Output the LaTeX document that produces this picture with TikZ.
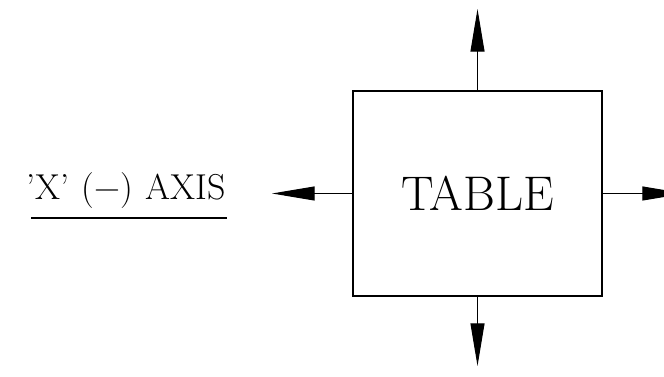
\documentclass[tikz,border=0pt]{standalone}
\usepackage{fontspec}
\usepackage{tikz}
\usetikzlibrary{arrows.meta}

\begin{document}
\begin{tikzpicture}[x=0.75pt, y=-0.75pt, line width=0.8pt]
  \useasboundingbox (0,0) rectangle (664,377);
  \node (table) [draw, minimum width=186.75pt, minimum height=153.75pt, inner sep=0pt,
    font=\fontsize{36.5}{42}\selectfont] at (477.5,193.5) {TABLE};
  \node (axis) [anchor=base, inner sep=0pt, font=\fontsize{27}{32}\selectfont]
    at (126,200) {'X'\hspace{0.35em}(−)\hspace{0.35em}AXIS};
  \coordinate (top) at (477.5,9);
  \coordinate (bottom) at (477.5,366);
  \coordinate (left) at (272,193.5);
  \coordinate (right) at (685,193.5);
  \coordinate (ul-l) at (31,218);
  \coordinate (ul-r) at (227,218);
  \path[-{Triangle[length=32pt, width=10.5pt]}]
  (table) edge (top)
  (table) edge (bottom)
  (table) edge (left)
  (table) edge (right)
  ;
  \draw (ul-l) -- (ul-r);
\end{tikzpicture}
\end{document}
